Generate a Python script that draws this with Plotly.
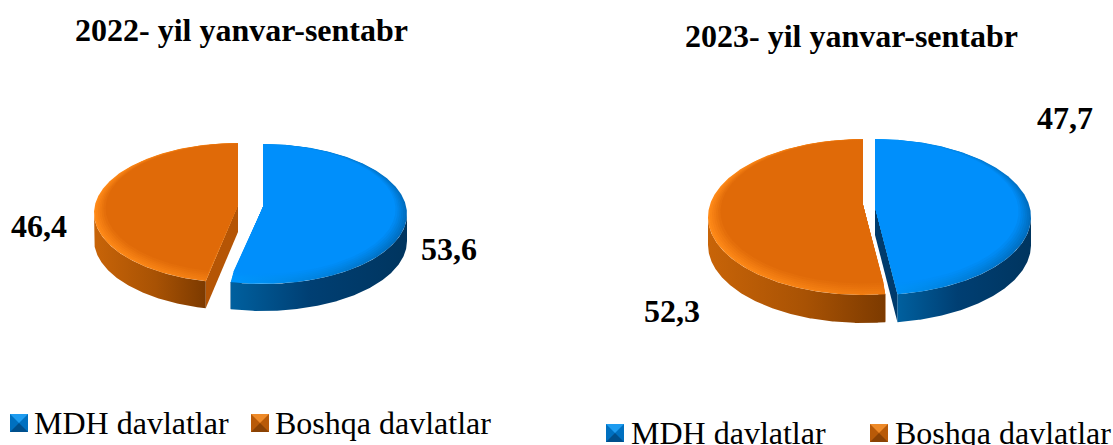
import math
import plotly.graph_objects as go

# --- data ---
categories = ["MDH davlatlar", "Boshqa davlatlar"]
values_2022 = [53.6, 46.4]
values_2023 = [47.7, 52.3]
labels_2022 = ["53,6", "46,4"]
labels_2023 = ["47,7", "52,3"]
titles = ["2022- yil yanvar-sentabr", "2023- yil yanvar-sentabr"]

# --- styling ---
FONT = "Liberation Serif"
TOP = ["#008FFB", "#E06A08"]
RIM_L = ["#0098FF", "#FF8A18"]
RIM_R = ["#006CBE", "#EE7A10"]
WALL = [
    [[0, "#00609F"], [0.45, "#003F73"], [1, "#00355F"]],
    [[0, "#C86408"], [0.55, "#A85204"], [1, "#7C3A00"]],
]
CUT = ["#003B6C", "#B55505"]

fig = go.Figure()


def poly(xs, ys, **kw):
    fig.add_trace(go.Scatter(x=xs, y=ys, mode="lines", fill="toself", line=dict(width=0),
                             hoverinfo="skip", showlegend=False, **kw))


def mix(a, b, t):
    ca = [int(a[i:i + 2], 16) for i in (1, 3, 5)]
    cb = [int(b[i:i + 2], 16) for i in (1, 3, 5)]
    return "#" + "".join(f"{round(x + (y - x) * t):02X}" for x, y in zip(ca, cb))


def angles(frm, to):
    n = max(3, int((to - frm) * 2))
    return [math.radians(frm + (to - frm) * i / n) for i in range(n + 1)]


def draw_pie(values, geoms, depth):
    total = sum(values)
    start = 0.0
    spans = []
    for v in values:
        spans.append((start, start + v / total * 360))
        start += v / total * 360
    # cut faces
    for i, ((a, b), g) in enumerate(zip(spans, geoms)):
        cx, cy, rx, ry, ax, ay = g
        for ang in (a, b):
            t = math.radians(ang)
            px, py = cx + rx * math.sin(t), cy - ry * math.cos(t)
            poly([ax, px, px, ax, ax], [ay, py, py + depth, ay + depth, ay], fillcolor=CUT[i])
    # outer walls
    for i, ((a, b), g) in enumerate(zip(spans, geoms)):
        cx, cy, rx, ry, ax, ay = g
        lo, hi = max(a, 90), min(b, 270)
        if hi <= lo:
            continue
        th = angles(lo, hi)
        xs = [cx + rx * math.sin(t) for t in th]
        ys = [cy - ry * math.cos(t) for t in th]
        poly(xs + xs[::-1] + [xs[0]], ys + [y + depth for y in ys[::-1]] + [ys[0]],
             fillcolor="rgba(0,0,0,0)",
             fillgradient=dict(type="horizontal", colorscale=WALL[i]))
    # top surfaces with a soft bevel that is wider at the front
    layers = [1.0, 0.987, 0.974, 0.961, 0.948, 0.935, 0.92]
    for i, ((a, b), g) in enumerate(zip(spans, geoms)):
        cx, cy, rx, ry, ax, ay = g
        th = angles(a, b)
        for k, s in enumerate(layers):
            f = k / (len(layers) - 1)
            shift = ry * (1 - s) * 0.85
            xs = [ax] + [cx + rx * s * math.sin(t) for t in th] + [ax]
            ys = [ay] + [cy - shift - ry * s * math.cos(t) for t in th] + [ay]
            left = mix(RIM_L[i], TOP[i], f)
            right = mix(RIM_R[i], TOP[i], f)
            poly(xs, ys, fillcolor="rgba(0,0,0,0)",
                 fillgradient=dict(type="horizontal", colorscale=[[0, left], [1, right]]))


# (cx, cy, rx, ry, apex x, apex y)
draw_pie(values_2022, [(263, 214, 144, 70, 263, 207), (238, 213, 144, 70, 238, 205)], 27)
draw_pie(values_2023, [(875, 217, 156, 78, 875, 207), (863, 217, 155, 78, 863, 205)], 28)


def key(x, y, size, base, light, dark):
    x2, y2 = x + size, y + size
    mx, my = x + size / 2, y + size / 2
    poly([x, x2, x2, x, x], [y, y, y2, y2, y], fillcolor=base)
    poly([x, x2, mx, x], [y, y, my, y], fillcolor=light)
    poly([x, x2, mx, x], [y2, y2, my, y2], fillcolor=dark)


KEY_COL = [("#0070C0", "#1E9CF0", "#004F8C"), ("#B85A08", "#EE8A28", "#8A4204")]
for x, y, c in [(10, 414, 0), (251, 414, 1), (606, 424, 0), (870, 424, 1)]:
    key(x, y, 18, *KEY_COL[c])

notes = []


def text(x, y, s, size, bold=False, anchor="center"):
    notes.append(dict(x=x, y=y, xref="x", yref="y", text=f"<b>{s}</b>" if bold else s, showarrow=False,
                      xanchor=anchor, yanchor="middle",
                      font=dict(family=FONT, size=size, color="#000000")))


text(241, 30, titles[0], 32, True)
text(851, 36, titles[1], 32, True)
text(449, 249, labels_2022[0], 32, True)
text(39, 226, labels_2022[1], 32, True)
text(1065, 118, labels_2023[0], 32, True)
text(672, 311, labels_2023[1], 32, True)
text(32, 423, categories[0], 32, anchor="left")
text(273, 423, categories[1], 32, anchor="left")
text(629, 433, categories[0], 32, anchor="left")
text(893, 433, categories[1], 32, anchor="left")

hidden = dict(visible=False, fixedrange=True)
fig.update_layout(
    width=1113, height=445, margin=dict(l=0, r=0, t=0, b=0),
    paper_bgcolor="white", plot_bgcolor="white", showlegend=False,
    xaxis=dict(range=[0, 1113], **hidden),
    yaxis=dict(range=[445, 0], **hidden),
    annotations=notes,
)
fig.write_html("out.html", post_script="document.body.style.margin='0';",
               config=dict(displayModeBar=False))
